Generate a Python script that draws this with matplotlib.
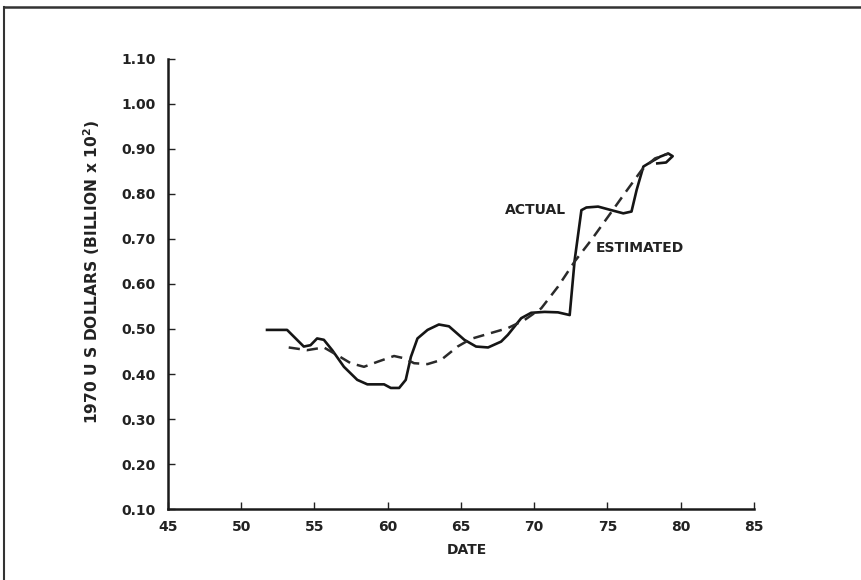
import matplotlib
matplotlib.use('Agg')
import matplotlib.pyplot as plt
from matplotlib.lines import Line2D

# values
actual_x = [51.76, 53.13, 54.27, 54.73, 55.18, 55.64, 56.21, 57.01, 57.92, 58.61,
            59.75, 60.21, 60.78, 61.23, 61.58, 62.03, 62.72, 63.49, 64.18, 65.23,
            66.03, 66.85, 67.74, 68.20, 69.11, 69.79, 70.71, 71.62, 72.42, 72.76,
            73.22, 73.56, 74.36, 75.27, 76.08, 76.64, 76.99, 77.45, 78.01, 78.6,
            79.15, 79.45, 79.0, 78.4]
actual_y = [0.498, 0.498, 0.461, 0.464, 0.479, 0.476, 0.453, 0.416, 0.387, 0.377,
            0.377, 0.369, 0.369, 0.387, 0.438, 0.479, 0.498, 0.510, 0.506, 0.476,
            0.461, 0.459, 0.472, 0.487, 0.524, 0.536, 0.538, 0.537, 0.531, 0.653,
            0.764, 0.770, 0.772, 0.764, 0.757, 0.761, 0.809, 0.861, 0.872, 0.883,
            0.890, 0.884, 0.870, 0.868]

est_x = [53.24, 54.50, 55.64, 56.55, 57.47, 58.38, 59.29, 60.43, 61.12, 61.80,
         62.72, 63.63, 64.77, 65.68, 66.83, 68.20, 69.34, 70.48, 71.62, 72.76,
         73.90, 75.05, 76.19, 77.33, 78.24, 79.16]
est_y = [0.459, 0.453, 0.459, 0.442, 0.424, 0.416, 0.427, 0.440, 0.435, 0.424,
         0.422, 0.431, 0.461, 0.478, 0.489, 0.502, 0.520, 0.546, 0.594, 0.650,
         0.698, 0.750, 0.802, 0.853, 0.879, 0.890]

xticks = [45, 50, 55, 60, 65, 70, 75, 80, 85]
yticks = [0.10, 0.20, 0.30, 0.40, 0.50, 0.60, 0.70, 0.80, 0.90, 1.00, 1.10]

plt.rcParams['font.family'] = 'DejaVu Sans'
plt.rcParams['font.weight'] = 'bold'

fig = plt.figure(figsize=(8.61, 5.80), dpi=100)
ax = fig.add_axes([0.1951, 0.1224, 0.6806, 0.7759])

ax.plot(actual_x, actual_y, color='#151515', linewidth=1.9, solid_joinstyle='round')
ax.plot(est_x, est_y, color='#2a2a2a', linewidth=1.8, dashes=(4.5, 2.8))

ax.set_xlim(45, 85)
ax.set_ylim(0.10, 1.10)
ax.set_xticks(xticks)
ax.set_yticks(yticks)
ax.set_xticklabels([str(t) for t in xticks], fontsize=10, fontweight='bold', color='#222222')
ax.set_yticklabels(['%.2f' % t for t in yticks], fontsize=10, fontweight='bold', color='#222222')
ax.tick_params(direction='in', length=5, width=1.0, color='#222222')
ax.tick_params(axis='x', pad=8)
ax.tick_params(axis='y', pad=9)

for s in ['top', 'right']:
    ax.spines[s].set_visible(False)
for s in ['left', 'bottom']:
    ax.spines[s].set_linewidth(1.8)
    ax.spines[s].set_color('#1a1a1a')

ax.set_xlabel('DATE', fontsize=10, fontweight='bold', color='#222222')
ax.set_ylabel('1970 U S DOLLARS (BILLION x 10$^\\mathbf{2}$)', fontsize=11.2,
              fontweight='bold', color='#222222')
ax.xaxis.set_label_coords(0.510, -0.0756)
ax.yaxis.set_label_coords(-0.113, 0.527)

ax.text(68.0, 0.764, 'ACTUAL', fontsize=10, fontweight='bold', va='center', color='#222222')
ax.text(74.2, 0.680, 'ESTIMATED', fontsize=10, fontweight='bold', va='center', color='#222222')

# page frame lines (left and top)
fig.add_artist(Line2D([0.005, 0.005], [0.0, 0.988], color='#333333', linewidth=1.5))
fig.add_artist(Line2D([0.005, 1.0], [0.988, 0.988], color='#333333', linewidth=1.8))

fig.savefig('out.png', dpi=100)
